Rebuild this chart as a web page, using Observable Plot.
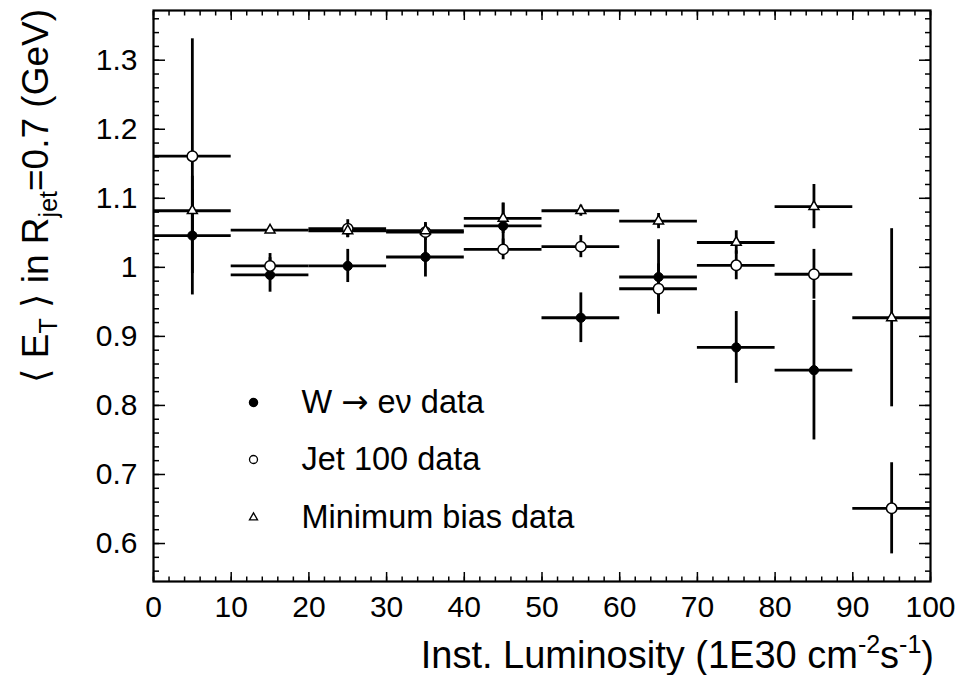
<!DOCTYPE html>
<html><head><meta charset="utf-8">
<script src="https://cdn.jsdelivr.net/npm/d3@7"></script>
<script src="https://cdn.jsdelivr.net/npm/@observablehq/plot@0.6"></script>
<style>
body{margin:0;background:#fff;}
#chart svg{display:block;}
</style>
</head><body><div id="chart"></div>
<script>
// ---- data ----
const binCenters   = [5, 15, 25, 35, 45, 55, 65, 75, 85, 95];
const binHalfWidth = [5, 5, 5, 5, 5, 5, 5, 5, 5, 5];
const wValues   = [1.046, 0.989, 1.002, 1.015, 1.060, 0.927, 0.986, 0.884, 0.851, null];
const wErrors   = [0.086, 0.025, 0.024, 0.029, 0.033, 0.036, 0.054, 0.052, 0.101, null];
const jetValues = [1.161, 1.002, 1.056, 1.051, 1.026, 1.030, 0.969, 1.003, 0.990, 0.651];
const jetErrors = [0.170, 0.018, 0.013, 0.012, 0.015, 0.016, 0.036, 0.021, 0.036, 0.066];
const mbValues  = [1.082, 1.054, 1.053, 1.053, 1.071, 1.082, 1.067, 1.036, 1.088, 0.927];
const mbErrors  = [0.030, 0.004, 0.010, 0.012, 0.022, 0.008, 0.011, 0.017, 0.032, 0.129];
const seriesNames = ["W \u2192 e\u03bd data", "Jet 100 data", "Minimum bias data"];
const xTickValues = [0, 10, 20, 30, 40, 50, 60, 70, 80, 90, 100];
const xTickLabels = ["0", "10", "20", "30", "40", "50", "60", "70", "80", "90", "100"];
const yTickValues = [0.6, 0.7, 0.8, 0.9, 1.0, 1.1, 1.2, 1.3];
const yTickLabels = ["0.6", "0.7", "0.8", "0.9", "1", "1.1", "1.2", "1.3"];

function rows(values, errors) {
  return binCenters.map((x, i) => ({x, hw: binHalfWidth[i], v: values[i], e: errors[i]}))
    .filter(d => d.v != null);
}
const wRows = rows(wValues, wErrors);
const jetRows = rows(jetValues, jetErrors);
const mbRows = rows(mbValues, mbErrors);
const allRows = [...wRows, ...jetRows, ...mbRows];

const xMinor = d3.range(0, 101, 2);
const yMinor = d3.range(28, 69).map(i => i / 50);

const FONT = "'Liberation Sans', Arial, Helvetica, sans-serif";
const SYMFONT = "'DejaVu Sans', sans-serif";
const xFmt = d => xTickLabels[xTickValues.indexOf(d)];
const yFmt = d => yTickLabels[yTickValues.findIndex(t => Math.abs(t - d) < 1e-9)];

const bw = 2.8;
const legendRowsDy = [392, 449, 507];
const chart = Plot.plot({
  width: 959, height: 675,
  marginLeft: 153, marginRight: 29, marginTop: 10, marginBottom: 94,
  style: {fontFamily: FONT, background: "white", color: "black"},
  x: {domain: [0, 100]},
  y: {domain: [0.545, 1.372]},
  marks: [
    // error bars
    Plot.ruleY(allRows, {y: "v", x1: d => d.x - d.hw, x2: d => d.x + d.hw, stroke: "black", strokeWidth: bw}),
    Plot.ruleX(allRows, {x: "x", y1: d => d.v - d.e, y2: d => d.v + d.e, stroke: "black", strokeWidth: bw}),
    // markers
    Plot.dot(wRows, {x: "x", y: "v", r: 4.6, fill: "black", stroke: "black", strokeWidth: 1}),
    Plot.dot(jetRows, {x: "x", y: "v", r: 5.2, fill: "white", stroke: "black", strokeWidth: 1.5}),
    Plot.dot(mbRows, {x: "x", y: "v", r: 3.7, symbol: "triangle", fill: "white", stroke: "black", strokeWidth: 1.5}),
    // axes: ticks pointing inward (ROOT style)
    Plot.axisX({anchor: "bottom", ticks: xTickValues, tickSize: -9, text: null, label: null, strokeWidth: 1.5}),
    Plot.axisX({anchor: "bottom", ticks: xMinor, tickSize: -4.5, text: null, label: null, strokeWidth: 1.5}),
    Plot.axisX({anchor: "top", ticks: xTickValues, tickSize: -9, text: null, label: null, strokeWidth: 1.5}),
    Plot.axisX({anchor: "top", ticks: xMinor, tickSize: -4.5, text: null, label: null, strokeWidth: 1.5}),
    Plot.axisX({anchor: "bottom", ticks: xTickValues, tickSize: 0, tickPadding: 14, tickFormat: xFmt, label: null, fontSize: 30}),
    Plot.axisY({anchor: "left", ticks: yTickValues, tickSize: -12, text: null, label: null, strokeWidth: 1.5}),
    Plot.axisY({anchor: "left", ticks: yMinor, tickSize: -6, text: null, label: null, strokeWidth: 1.5}),
    Plot.axisY({anchor: "right", ticks: yTickValues, tickSize: -12, text: null, label: null, strokeWidth: 1.5}),
    Plot.axisY({anchor: "right", ticks: yMinor, tickSize: -6, text: null, label: null, strokeWidth: 1.5}),
    Plot.axisY({anchor: "left", ticks: yTickValues, tickSize: 0, tickPadding: 16, tickFormat: yFmt, label: null, fontSize: 30}),
    Plot.frame({stroke: "black", strokeWidth: 2.2}),
    // legend (inside the frame)
    Plot.dot([seriesNames[0]], {frameAnchor: "top-left", dx: 100, dy: legendRowsDy[0], r: 4, fill: "black", stroke: "black"}),
    Plot.dot([seriesNames[1]], {frameAnchor: "top-left", dx: 100, dy: legendRowsDy[1], r: 4, fill: "white", stroke: "black", strokeWidth: 1.3}),
    Plot.dot([seriesNames[2]], {frameAnchor: "top-left", dx: 100, dy: legendRowsDy[2], r: 3, symbol: "triangle", fill: "white", stroke: "black", strokeWidth: 1.3}),
    ...seriesNames.map((name, i) => Plot.text([name], {frameAnchor: "top-left", dx: 148, dy: legendRowsDy[i], text: d => d,
      textAnchor: "start", lineAnchor: "middle", fontSize: 32.5, fill: "black"})),
  ]
});

const svg = d3.select(chart);

// give the legend arrow a long symbol glyph
svg.selectAll("text").filter(function(){ return this.textContent === seriesNames[0]; })
  .each(function(){
    const t = d3.select(this);
    const parts = seriesNames[0].split("\u2192");
    t.text(null);
    t.append("tspan").text(parts[0]);
    t.append("tspan").attr("font-family", SYMFONT).text("\u2192");
    t.append("tspan").text(parts[1]);
  });

// axis titles with sub/superscripts
const yTitle = svg.append("text")
  .attr("transform", "translate(48,9) rotate(-90)")
  .attr("text-anchor", "end")
  .attr("font-family", FONT).attr("font-size", 37).attr("fill", "black");
yTitle.append("tspan").attr("font-family", SYMFONT).text("\u27e8");
yTitle.append("tspan").text(" E");
yTitle.append("tspan").attr("font-size", 25).attr("dy", 9).text("T");
yTitle.append("tspan").attr("dy", -9).text(" ");
yTitle.append("tspan").attr("font-family", SYMFONT).text("\u27e9");
yTitle.append("tspan").text(" in R");
yTitle.append("tspan").attr("font-size", 25).attr("dy", 9).text("jet");
yTitle.append("tspan").attr("dy", -9).text("=0.7 (GeV)");

const xTitle = svg.append("text")
  .attr("x", 934).attr("y", 668)
  .attr("text-anchor", "end")
  .attr("font-family", FONT).attr("font-size", 38).attr("fill", "black");
xTitle.append("tspan").text("Inst. Luminosity (1E30 cm");
xTitle.append("tspan").attr("font-size", 25).attr("dy", -15).text("-2");
xTitle.append("tspan").attr("dy", 15).text("s");
xTitle.append("tspan").attr("font-size", 25).attr("dy", -15).text("-1");
xTitle.append("tspan").attr("dy", 15).text(")");

document.getElementById("chart").appendChild(chart);
</script>
</body></html>
